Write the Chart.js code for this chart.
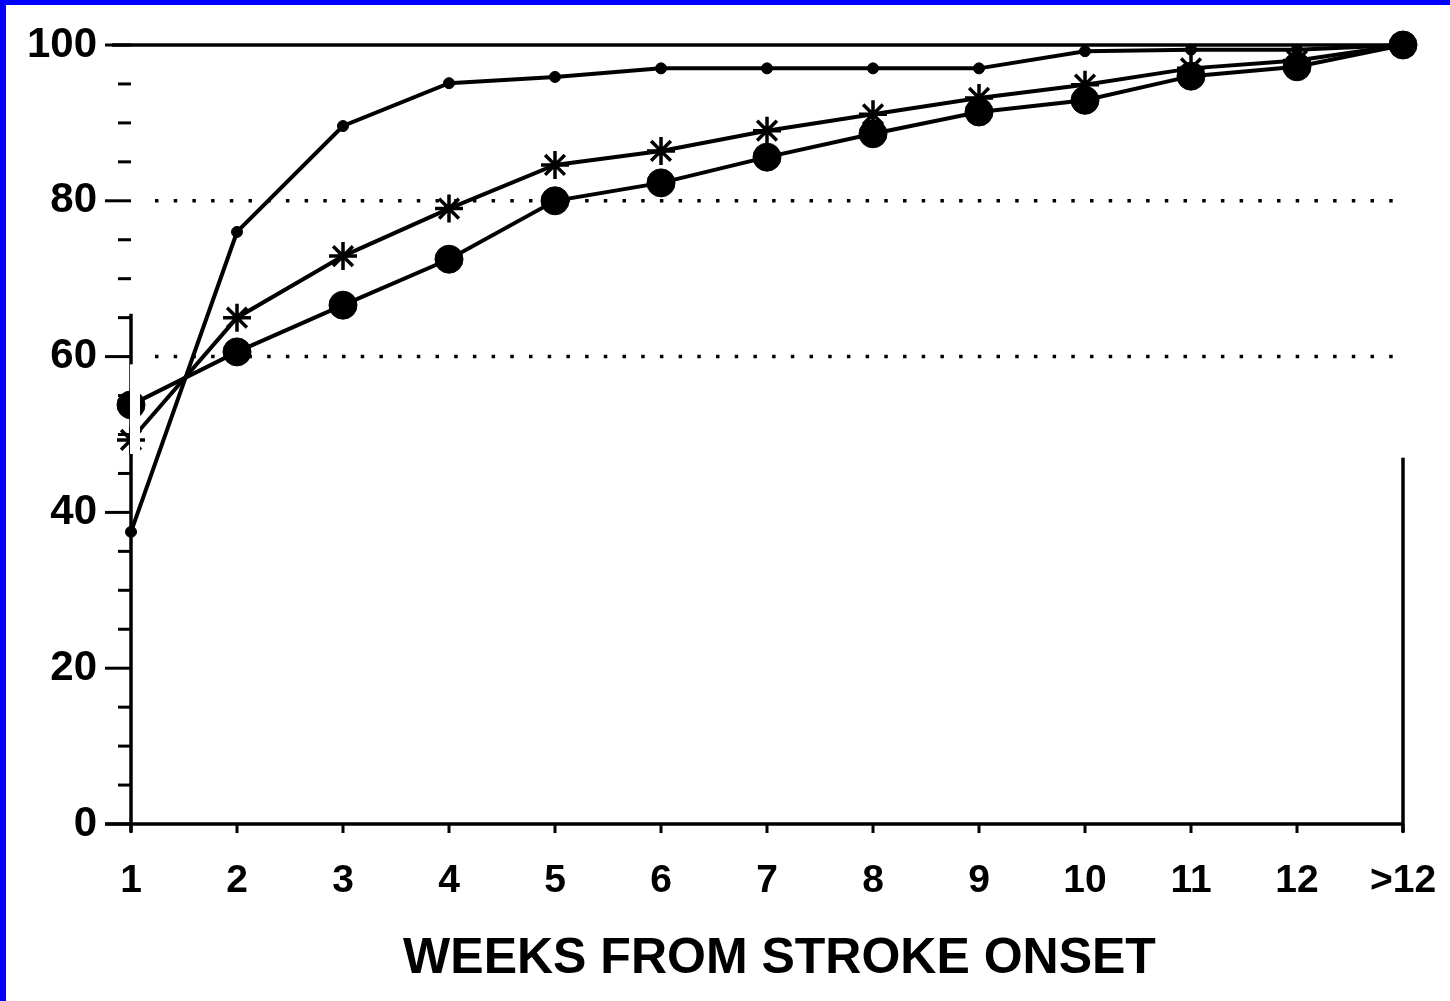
<!DOCTYPE html>
<html>
<head>
<meta charset="utf-8">
<script src="https://cdn.jsdelivr.net/npm/chart.js@4/dist/chart.umd.min.js"></script>
<style>
  html, body { margin: 0; padding: 0; background: #fff; overflow: hidden; }
  #wrap { width: 1450px; height: 1001px; position: relative; }
</style>
</head>
<body>
<div id="wrap"><canvas id="chart"></canvas></div>
<script>
// data
const weeks = ['1', '2', '3', '4', '5', '6', '7', '8', '9', '10', '11', '12', '>12'];
const smallDots = [37.5, 76, 89.6, 95.1, 95.9, 97, 97, 97, 97, 99.2, 99.4, 99.4, 100];
const asterisks = [49.3, 65, 72.9, 79, 84.6, 86.4, 89, 91.1, 93.2, 94.9, 97, 98, 100];
const bigDots = [53.8, 60.6, 66.6, 72.5, 80, 82.3, 85.6, 88.6, 91.4, 92.9, 96, 97.2, 100];
const dottedAt = [60, 80];
const solidAt = 100;

const FONT = '"Liberation Sans", Arial, Helvetica, sans-serif';

// axes, ticks and reference lines drawn like the scanned original
const paperAxes = {
  id: 'paperAxes',
  beforeDatasetsDraw(chart) {
    const { ctx, chartArea: a, scales: { x, y } } = chart;
    ctx.save();
    ctx.strokeStyle = '#000';
    ctx.lineCap = 'butt';

    // dotted lines
    ctx.lineWidth = 3.5;
    ctx.setLineDash([3.5, 15.2]);
    dottedAt.forEach(v => {
      const py = y.getPixelForValue(v);
      ctx.beginPath();
      ctx.moveTo(a.left + 24, py);
      ctx.lineTo(a.right, py);
      ctx.stroke();
    });
    ctx.setLineDash([]);

    // solid line at 100
    ctx.lineWidth = 3.5;
    const p100 = y.getPixelForValue(solidAt);
    ctx.beginPath();
    ctx.moveTo(a.left - 19, p100);
    ctx.lineTo(a.right, p100);
    ctx.stroke();

    // left axis
    ctx.lineWidth = 3.5;
    ctx.beginPath();
    ctx.moveTo(a.left, y.getPixelForValue(65.5));
    ctx.lineTo(a.left, a.bottom + 8);
    ctx.stroke();

    // right axis (partial)
    ctx.beginPath();
    ctx.moveTo(a.right, y.getPixelForValue(47));
    ctx.lineTo(a.right, a.bottom + 8);
    ctx.stroke();

    // bottom axis
    ctx.beginPath();
    ctx.moveTo(a.left - 26, a.bottom);
    ctx.lineTo(a.right, a.bottom);
    ctx.stroke();

    // y ticks: major every 20, minor every 5
    ctx.lineWidth = 3;
    for (let v = 0; v <= 100; v += 5) {
      const py = y.getPixelForValue(v);
      const len = v % 20 === 0 ? 26 : 13;
      ctx.beginPath();
      ctx.moveTo(a.left - len, py);
      ctx.lineTo(a.left, py);
      ctx.stroke();
    }

    // x ticks
    weeks.forEach((w, i) => {
      const px = x.getPixelForValue(i);
      ctx.beginPath();
      ctx.moveTo(px, a.bottom);
      ctx.lineTo(px, a.bottom + 9);
      ctx.stroke();
    });
    ctx.restore();
  },
  afterDatasetsDraw(chart) {
    // white gap across the left axis as in the scan
    const { ctx, chartArea: a, scales: { y } } = chart;
    const top = y.getPixelForValue(59);
    const bot = y.getPixelForValue(47.5);
    ctx.save();
    ctx.fillStyle = '#fff';
    ctx.fillRect(a.left - 1, top, 10, bot - top);
    ctx.restore();
  },
  afterDraw(chart) {
    const { ctx, width, height } = chart;
    ctx.save();
    ctx.fillStyle = '#0000ff';
    ctx.fillRect(0, 0, width, 5);
    ctx.fillRect(0, 0, 6, height);
    ctx.restore();
  }
};

const base = {
  borderColor: '#000',
  backgroundColor: '#000',
  pointBackgroundColor: '#000',
  pointBorderColor: '#000',
  borderWidth: 4,
  tension: 0,
  fill: false,
  clip: false
};

new Chart(document.getElementById('chart'), {
  type: 'line',
  data: {
    labels: weeks,
    datasets: [
      { ...base, label: 'small', data: smallDots, pointStyle: 'circle', pointRadius: 5.5, pointBorderWidth: 1 },
      { ...base, label: 'asterisk', data: asterisks, pointStyle: 'star', pointRadius: 14, pointBorderWidth: 3.5 },
      { ...base, label: 'large', data: bigDots, pointStyle: 'circle', pointRadius: 14, pointBorderWidth: 1 }
    ]
  },
  options: {
    responsive: true,
    maintainAspectRatio: false,
    animation: false,
    layout: { padding: { top: 45, right: 47, left: 5, bottom: 0 } },
    plugins: {
      legend: { display: false },
      tooltip: { enabled: false }
    },
    scales: {
      x: {
        type: 'category',
        offset: false,
        grid: { display: false, drawTicks: false },
        border: { display: false },
        ticks: {
          color: '#000',
          padding: 34,
          maxRotation: 0,
          autoSkip: false,
          font: { family: FONT, size: 39, weight: 'bold' }
        },
        title: {
          display: true,
          text: '\u2002WEEKS FROM STROKE ONSET',
          color: '#000',
          font: { family: FONT, size: 50, weight: 'bold' },
          padding: { top: 0, bottom: 12 }
        },
        afterFit: s => {
          s.height = 177;
          s.paddingLeft = 0;
          s.paddingRight = 0;
        }
      },
      y: {
        min: 0,
        max: 100,
        grid: { display: false, drawTicks: false },
        border: { display: false },
        ticks: {
          stepSize: 20,
          color: '#000',
          padding: 34,
          font: { family: FONT, size: 42, weight: 'bold' }
        },
        afterFit: s => {
          s.width = 126;
          s.paddingTop = 0;
          s.paddingBottom = 0;
        }
      }
    }
  },
  plugins: [paperAxes]
});
</script>
</body>
</html>
